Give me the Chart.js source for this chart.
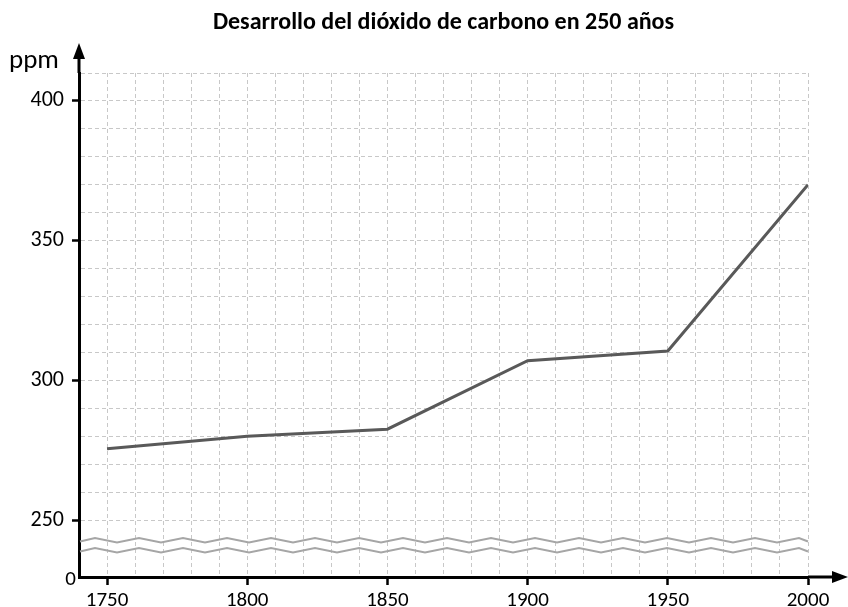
<!DOCTYPE html>
<html>
<head>
<meta charset="utf-8">
<script src="https://cdn.jsdelivr.net/npm/chart.js@4"></script>
<style>
  html, body { margin: 0; padding: 0; background: #fff; }
  #wrap { width: 848px; height: 607px; }
</style>
</head>
<body>
<div id="wrap"><canvas id="co2Chart" width="848" height="607"></canvas></div>
<script>
// datos
const years = [1750, 1800, 1850, 1900, 1950, 2000];
const ppm = [275.5, 280, 282.5, 307, 310.5, 370];
const yTickLabels = [250, 300, 350, 400];
const xTickLabels = [1750, 1800, 1850, 1900, 1950, 2000];

const Y_MIN = 229.6;   // punto donde el eje se corta y se marca "0"
const FONT = 'Carlito, Calibri, Lato, sans-serif';

// ejes con flechas, texto "ppm", el "0" y líneas de corte onduladas
const extras = {
  id: 'extras',
  afterDraw(chart) {
    const { ctx, chartArea: a } = chart;
    ctx.save();
    ctx.fillStyle = '#000';
    // flecha eje y
    ctx.beginPath();
    ctx.moveTo(a.left, 43);
    ctx.lineTo(a.left - 6, 59);
    ctx.lineTo(a.left + 6, 59);
    ctx.closePath();
    ctx.fill();
    ctx.fillRect(a.left - 1.5, 55, 3, a.top - 55);
    // flecha eje x
    ctx.fillRect(a.right, a.bottom - 1.5, 834 - a.right, 3);
    ctx.beginPath();
    ctx.moveTo(848, a.bottom);
    ctx.lineTo(832, a.bottom - 6);
    ctx.lineTo(832, a.bottom + 6);
    ctx.closePath();
    ctx.fill();

    ctx.font = '27px ' + FONT;
    ctx.textAlign = 'left';
    ctx.textBaseline = 'alphabetic';
    ctx.fillText('ppm', 9, 68);

    ctx.font = '21px ' + FONT;
    ctx.textAlign = 'right';
    ctx.textBaseline = 'middle';
    ctx.fillText('0', a.left - 3, a.bottom + 3);

    // corte del eje
    ctx.strokeStyle = '#a6a6a6';
    ctx.lineWidth = 2;
    [540.5, 550.5].forEach(y0 => {
      ctx.beginPath();
      let up = false;
      ctx.moveTo(a.left + 1, y0 + 1);
      for (let x = a.left + 16; x < a.right; x += 22) {
        ctx.lineTo(x, up ? y0 + 2 : y0 - 2.5);
        up = !up;
      }
      ctx.lineTo(a.right, y0 + 1);
      ctx.stroke();
    });
    ctx.restore();
  }
};

new Chart(document.getElementById('co2Chart'), {
  type: 'line',
  data: {
    datasets: [{
      data: years.map((y, i) => ({ x: y, y: ppm[i] })),
      borderColor: '#595959',
      borderWidth: 3,
      pointRadius: 0,
      tension: 0
    }]
  },
  options: {
    responsive: false,
    animation: false,
    layout: { padding: { left: 0, right: 40, top: 0, bottom: 0 } },
    plugins: {
      legend: { display: false },
      tooltip: { enabled: false },
      title: {
        display: true,
        text: 'Desarrollo del dióxido de carbono en 250 años',
        color: '#000',
        fullSize: false,
        font: { family: FONT, size: 24, weight: 'bold', lineHeight: 1.2 },
        padding: { top: 9, bottom: 35.2 }
      }
    },
    scales: {
      x: {
        type: 'linear',
        min: 1740,
        max: 2000,
        afterBuildTicks: s => {
          const t = [];
          for (let v = 1740; v <= 2000; v += 10) t.push({ value: v });
          s.ticks = t;
        },
        afterFit: s => { s.height = 30; },
        ticks: {
          autoSkip: false,
          maxRotation: 0,
          color: '#000',
          padding: 3,
          font: { family: FONT, size: 21 },
          callback: v => xTickLabels.includes(v) ? String(v) : ''
        },
        grid: {
          color: c => c.tick && c.tick.value === 1740 ? 'rgba(0,0,0,0)' : '#c8c8c8',
          lineWidth: 1,
          tickLength: 8,
          tickColor: c => c.tick && xTickLabels.includes(c.tick.value) ? '#000' : 'rgba(0,0,0,0)',
          tickWidth: 2.5
        },
        border: { color: '#000', width: 3, dash: [4, 3] }
      },
      y: {
        type: 'linear',
        min: Y_MIN,
        max: 410,
        afterBuildTicks: s => {
          const t = [{ value: Y_MIN }];
          for (let v = 250; v <= 410; v += 10) t.push({ value: v });
          s.ticks = t;
        },
        afterFit: s => { s.width = 79; },
        ticks: {
          autoSkip: false,
          color: '#000',
          padding: 8,
          font: { family: FONT, size: 22 },
          callback: v => yTickLabels.includes(v) ? String(v) : ''
        },
        grid: {
          color: c => c.tick && c.tick.value < 250 ? 'rgba(0,0,0,0)' : '#c8c8c8',
          lineWidth: 1,
          tickLength: 7,
          tickColor: c => c.tick && yTickLabels.includes(c.tick.value) ? '#000' : 'rgba(0,0,0,0)',
          tickWidth: 2.5
        },
        border: { color: '#000', width: 3, dash: [4, 3] }
      }
    }
  },
  plugins: [extras]
});
</script>
</body>
</html>
